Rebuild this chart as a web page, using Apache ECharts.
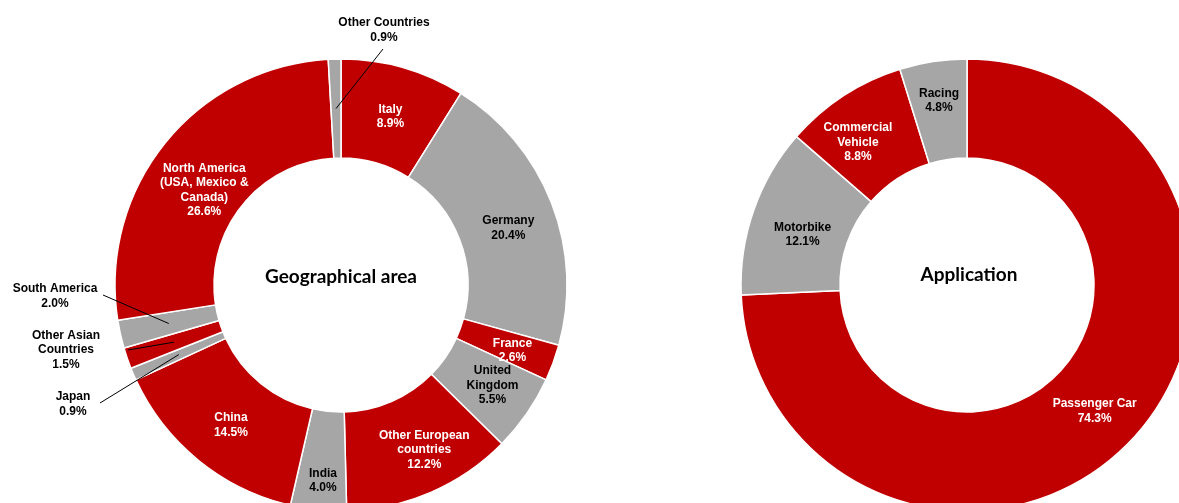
<!DOCTYPE html>
<html>
<head>
<meta charset="utf-8">
<script src="https://cdn.jsdelivr.net/npm/echarts@6/dist/echarts.min.js"></script>
<style>
  html, body { margin: 0; padding: 0; background: #fff; }
  #chart { width: 1179px; height: 503px; }
</style>
</head>
<body>
<div id="chart"></div>
<script>
// Sales breakdown by geographical area (clockwise from 12 o'clock)
const geoNames = ['Italy', 'Germany', 'France', 'United\nKingdom', 'Other European\ncountries', 'India', 'China',
  'Japan', 'Other Asian\nCountries', 'South America', 'North America\n(USA, Mexico &\nCanada)', 'Other Countries'];
const geoShares = [8.9, 20.4, 2.6, 5.5, 12.2, 4.0, 14.5, 0.9, 1.5, 2.0, 26.6, 0.9];

// Sales breakdown by application
const appNames = ['Passenger Car', 'Motorbike', 'Commercial\nVehicle', 'Racing'];
const appShares = [74.3, 12.1, 8.8, 4.8];

const RED = '#C00000';
const GREY = '#A6A6A6';
const LABEL_FONT = '"Liberation Sans", Arial, sans-serif';
const RING = [127, 226];
const GEO_CENTER = [341, 285];
const APP_CENTER = [967, 285];

// small slices whose labels sit outside the ring; (lx, ly) is where the leader line leaves the label
const outsideSpots = {
  'Other Countries': { x: 384, y: 30, lx: -1, ly: 19 },
  'South America': { x: 55, y: 296, lx: 48, ly: -1 },
  'Other Asian\nCountries': { x: 66, y: 350, lx: 62, ly: 0 },
  'Japan': { x: 73, y: 404, lx: 27, ly: -1 }
};

// small nudges for the in-ring labels
const labelNudge = {
  'Italy': [0, 4], 'Germany': [0, 8], 'France': [3, 4], 'United\nKingdom': [4, -2],
  'Other European\ncountries': [12, 0], 'India': [0, 17], 'China': [3, 1],
  'North America\n(USA, Mexico &\nCanada)': [3, 18],
  'Passenger Car': [-2, 2], 'Motorbike': [5, 9], 'Commercial\nVehicle': [-11, 8], 'Racing': [-1, -7]
};

const labelText = p => p.name + '\n' + p.value.toFixed(1) + '%';

function isOutside(names, name) {
  return names === geoNames && Object.prototype.hasOwnProperty.call(outsideSpots, name);
}

// the ring itself, with the labels that sit inside the slices
function ringSeries(names, shares, center) {
  return {
    type: 'pie',
    center: center,
    radius: RING,
    startAngle: 90,
    clockwise: true,
    avoidLabelOverlap: false,
    silent: true,
    animation: false,
    z: 2,
    itemStyle: { borderColor: '#fff', borderWidth: 1.5 },
    label: {
      show: true,
      position: 'inside',
      fontFamily: LABEL_FONT,
      fontWeight: 'bold',
      fontSize: 12,
      lineHeight: 14.5,
      align: 'center',
      formatter: labelText
    },
    labelLine: { show: false },
    // keep every in-ring label, even where it spills over a slice edge
    labelLayout: function () {
      return {};
    },
    data: names.map((name, i) => {
      const fill = i % 2 === 0 ? RED : GREY;
      return {
        name: name,
        value: shares[i],
        itemStyle: { color: fill },
        label: {
          show: !isOutside(names, name),
          color: fill === RED ? '#fff' : '#000',
          offset: labelNudge[name] || [0, 0]
        }
      };
    })
  };
}

// a see-through copy of the ring, drawn on top, that carries the outside labels and their leaders
function calloutSeries(names, shares, center) {
  return {
    type: 'pie',
    center: center,
    radius: RING,
    startAngle: 90,
    clockwise: true,
    avoidLabelOverlap: false,
    silent: true,
    animation: false,
    z: 5,
    itemStyle: { color: 'rgba(0,0,0,0)', borderWidth: 0 },
    label: {
      show: true,
      position: 'outside',
      color: '#000',
      fontFamily: LABEL_FONT,
      fontWeight: 'bold',
      fontSize: 12,
      lineHeight: 14.5,
      align: 'center',
      formatter: labelText
    },
    labelLine: {
      show: true,
      length: 8,
      length2: 8,
      lineStyle: { color: '#000', width: 1 }
    },
    labelLayout: function (p) {
      const name = names[p.dataIndex];
      if (!isOutside(names, name)) {
        return {};
      }
      const spot = outsideSpots[name];
      const out = { x: spot.x, y: spot.y, align: 'center', verticalAlign: 'middle' };
      const pts = p.labelLinePoints;
      if (pts && pts.length) {
        // run the leader from beside the label into the middle of the ring
        const k = (RING[0] + RING[1]) / 2 / RING[1];
        const edge = pts[0];
        const inner = [center[0] + (edge[0] - center[0]) * k, center[1] + (edge[1] - center[1]) * k];
        out.labelLinePoints = [[spot.x + spot.lx, spot.y + spot.ly], inner];
      }
      return out;
    },
    data: names.map((name, i) => ({
      name: name,
      value: shares[i],
      label: { show: isOutside(names, name) },
      labelLine: { show: isOutside(names, name) }
    }))
  };
}

const chart = echarts.init(document.getElementById('chart'), null, { renderer: 'canvas' });
chart.setOption({
  backgroundColor: '#fff',
  graphic: [
    {
      type: 'text', x: GEO_CENTER[0], y: 277,
      style: { text: 'Geographical area', font: 'bold 19px Lato, "Open Sans", sans-serif', fill: '#000', align: 'center', verticalAlign: 'middle' }
    },
    {
      type: 'text', x: 969, y: 275,
      style: { text: 'Application', font: 'bold 19px Lato, "Open Sans", sans-serif', fill: '#000', align: 'center', verticalAlign: 'middle' }
    }
  ],
  series: [
    ringSeries(geoNames, geoShares, GEO_CENTER),
    calloutSeries(geoNames, geoShares, GEO_CENTER),
    ringSeries(appNames, appShares, APP_CENTER)
  ]
});
</script>
</body>
</html>
